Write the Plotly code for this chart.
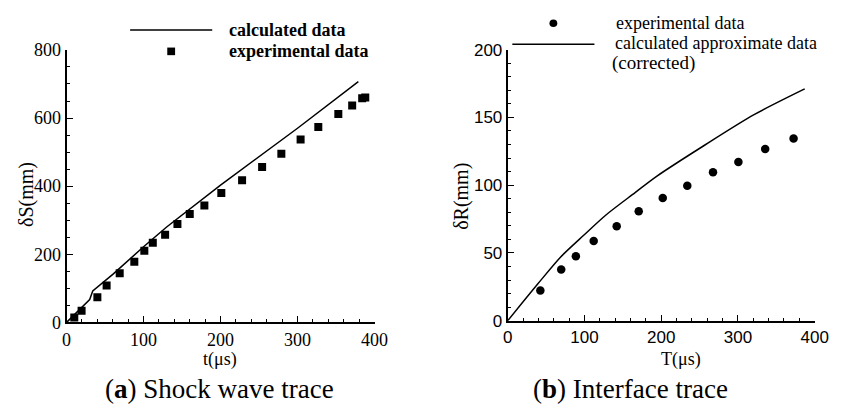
import plotly.graph_objects as go

W, H = 845, 407

# ---- data: (a) shock wave trace ----
t_exp = [10, 19.5, 40, 52, 69, 88, 101, 112, 128, 144, 160, 179, 201, 228, 254, 279, 304, 327, 353, 371, 384, 388]
s_exp = [14, 34, 74, 108, 144, 178, 210, 234, 257, 289, 318, 343, 380, 417, 456, 495, 537, 574, 612, 637, 658, 660]
t_calc = [0, 10, 19, 26, 30, 34, 60, 100, 130, 200, 300, 379]
s_calc = [0, 22, 43, 58, 67, 92, 141, 222, 280, 403, 570, 707]

# ---- data: (b) interface trace ----
T_exp = [42.5, 69.7, 88.8, 112, 142, 170.7, 202, 234, 267.5, 300.6, 335.5, 372.5]
R_exp = [22.2, 37.7, 47.5, 58.7, 69.7, 80.7, 90.5, 99.6, 109.5, 117, 126.6, 134.5]
T_calc = [0, 20, 39, 69, 99, 128, 166, 194, 258, 321, 387]
R_calc = [0, 14, 27, 47, 63, 78, 94.5, 106.5, 130, 152, 171]

SERIF = "Liberation Serif"
SANS = "Liberation Sans"


def px(x):
    return x / W


def py(y):
    return 1 - y / H


fig = go.Figure()

fig.add_trace(go.Scatter(x=t_calc, y=s_calc, mode="lines",
                         line=dict(color="black", width=1.5),
                         xaxis="x", yaxis="y", showlegend=False))
fig.add_trace(go.Scatter(x=t_exp, y=s_exp, mode="markers",
                         marker=dict(symbol="square", size=8, color="black"),
                         xaxis="x", yaxis="y", showlegend=False))
fig.add_trace(go.Scatter(x=T_calc, y=R_calc, mode="lines",
                         line=dict(color="black", width=1.5, shape="spline", smoothing=0.8),
                         xaxis="x2", yaxis="y2", showlegend=False))
fig.add_trace(go.Scatter(x=T_exp, y=R_exp, mode="markers",
                         marker=dict(symbol="circle", size=8.5, color="black"),
                         xaxis="x2", yaxis="y2", showlegend=False))

axis_common = dict(showgrid=False, zeroline=False, showline=True,
                   linecolor="black", linewidth=2, ticks="inside",
                   ticklen=6, tickwidth=1, tickcolor="black")

fig.update_layout(
    width=W, height=H,
    margin=dict(l=0, r=0, t=0, b=0),
    paper_bgcolor="white", plot_bgcolor="white",
    xaxis=dict(domain=[px(63), px(378)], range=[0, 400], dtick=100,
               anchor="y", tickfont=dict(family=SERIF, size=18, color="black"),
               minor=dict(dtick=20, ticks="inside", ticklen=3, tickcolor="black"),
               **axis_common),
    yaxis=dict(domain=[py(328.5), py(42)], range=[0, 800], dtick=200,
               anchor="x", tickfont=dict(family=SERIF, size=18, color="black"),
               minor=dict(dtick=50, ticks="inside", ticklen=3, tickcolor="black"),
               **axis_common),
    xaxis2=dict(domain=[px(514.3), px(828.3)], range=[0, 400], dtick=100,
                anchor="y2", tickfont=dict(family=SANS, size=17, color="black"),
                minor=dict(dtick=20, ticks="inside", ticklen=3, tickcolor="black"),
                **axis_common),
    yaxis2=dict(domain=[py(326.7), py(41.7)], range=[0, 200], dtick=50,
                anchor="x2", tickfont=dict(family=SANS, size=17, color="black"),
                minor=dict(dtick=10, ticks="inside", ticklen=3, tickcolor="black"),
                **axis_common),
)

ann = []


def text(x, y, s, size=16, family=SERIF, angle=0, xanchor="center"):
    ann.append(dict(x=px(x), y=py(y), xref="paper", yref="paper", text=s,
                    showarrow=False, xanchor=xanchor, yanchor="middle",
                    borderpad=0, textangle=angle,
                    font=dict(family=family, size=size, color="black")))


# axis titles
text(22, 194, "δS(mm)", size=20, angle=-90)
text(220, 368, "t(μs)", size=18)
text(467, 196, "δR(mm)", size=20, angle=-90)
text(692, 368, "T(μs)", size=18)

# legends
text(228, 21, "<b>calculated data</b>", size=18, xanchor="left")
text(228, 43, "<b>experimental data</b>", size=18, xanchor="left")
text(624, 14, "experimental data", size=18, xanchor="left")
text(623, 35, "calculated approximate data", size=18, xanchor="left")
text(620, 56, "(corrected)", size=19, xanchor="left")

# captions
text(219, 399, "(<b>a</b>) Shock wave trace", size=27)
text(640, 399, "(<b>b</b>) Interface trace", size=27)

fig.update_layout(annotations=ann)

shapes = [
    dict(type="line", xref="paper", yref="paper", x0=px(128), x1=px(212),
         y0=py(21), y1=py(21), line=dict(color="black", width=1.5)),
    dict(type="rect", xref="paper", yref="paper", x0=px(166), x1=px(174),
         y0=py(39.5), y1=py(47.5), fillcolor="black", line=dict(width=0)),
    dict(type="line", xref="paper", yref="paper", x0=px(519), x1=px(603),
         y0=py(36), y1=py(36), line=dict(color="black", width=1.5)),
    dict(type="circle", xref="paper", yref="paper", x0=px(557), x1=px(565),
         y0=py(10), y1=py(18), fillcolor="black", line=dict(width=0)),
]
fig.update_layout(shapes=shapes)

fig.write_html("out.html")
